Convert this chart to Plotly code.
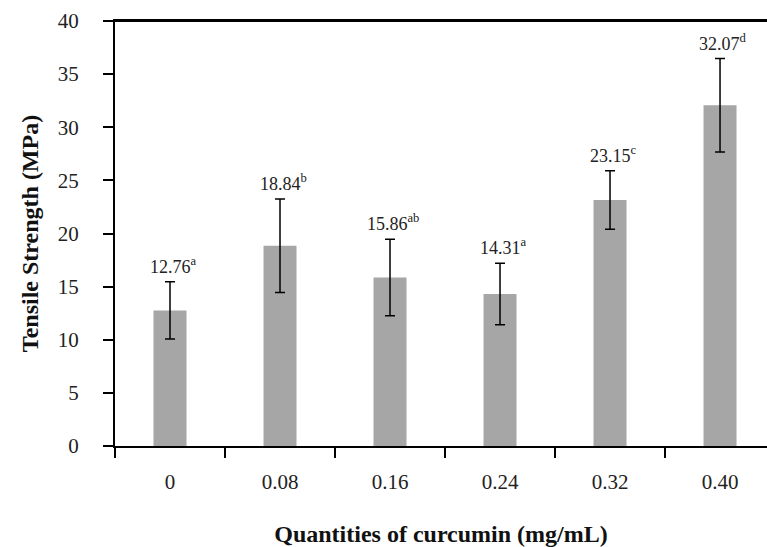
import plotly.graph_objects as go

categories = ["0", "0.08", "0.16", "0.24", "0.32", "0.40"]
values = [12.76, 18.84, 15.86, 14.31, 23.15, 32.07]
errors = [2.7, 4.4, 3.6, 2.9, 2.75, 4.4]
letters = ["a", "b", "ab", "a", "c", "d"]

SERIF = "Liberation Serif, Times New Roman, serif"

fig = go.Figure()
fig.add_trace(go.Bar(
    x=categories, y=values,
    width=0.3,
    marker=dict(color="#a6a6a6", line=dict(width=0)),
    error_y=dict(type="data", array=errors, visible=True, color="black", thickness=1.5, width=5),
))

for i, (v, e, l) in enumerate(zip(values, errors, letters)):
    fig.add_annotation(
        x=i, y=v + e, text=f"{v:.2f}<sup>{l}</sup>", showarrow=False,
        yanchor="bottom", yshift=3, xshift=3,
        font=dict(family=SERIF, size=18, color="#222"),
    )

fig.add_shape(type="line", xref="paper", yref="paper", x0=0, x1=1, y0=1, y1=1,
              line=dict(color="black", width=2))

fig.update_layout(
    width=767, height=547,
    margin=dict(l=115, r=0, t=21, b=101),
    plot_bgcolor="white", paper_bgcolor="white",
    showlegend=False,
    font=dict(family=SERIF, color="#222"),
    xaxis=dict(
        type="category", range=[-0.5, 5.427], automargin=False,
        showline=True, linecolor="black", linewidth=2, mirror=True,
        ticks="outside", tickson="boundaries", ticklen=10, tickwidth=1.5, tickcolor="black",
        tickfont=dict(family=SERIF, size=21, color="#222"), ticklabelstandoff=16,
        showgrid=False,
        title=dict(text="<b>Quantities of curcumin (mg/mL)</b>", font=dict(family=SERIF, size=24, color="#111"), standoff=40),
    ),
    yaxis=dict(
        range=[0, 40], tickvals=[0, 5, 10, 15, 20, 25, 30, 35, 40], automargin=False,
        showline=True, linecolor="black", linewidth=2,
        ticks="outside", ticklen=10, tickwidth=1.5, tickcolor="black",
        tickfont=dict(family=SERIF, size=21, color="#222"), ticklabelstandoff=20,
        showgrid=False, zeroline=False,
        title=dict(text="<b>Tensile Strength (MPa)</b>", font=dict(family=SERIF, size=24, color="#111"), standoff=12),
    ),
)

fig.write_html("out.html", config={"displayModeBar": False},
               post_script="document.body.style.margin='0';document.body.style.overflow='hidden';")
